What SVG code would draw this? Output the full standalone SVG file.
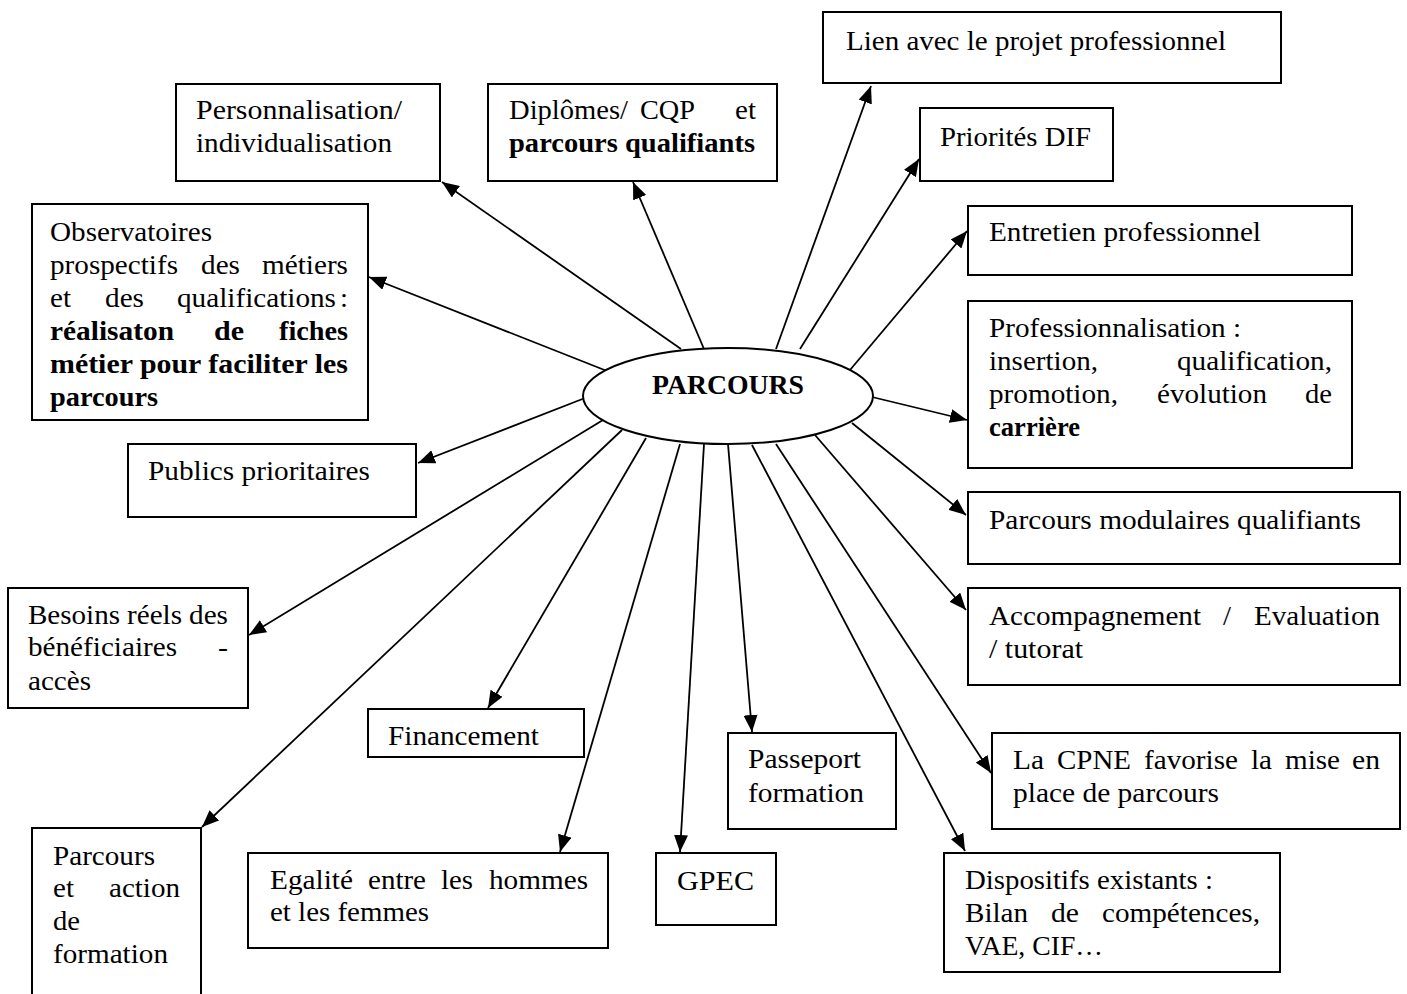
<svg xmlns="http://www.w3.org/2000/svg" width="1407" height="994" viewBox="0 0 1407 994">
<style>
.box{fill:#fff;stroke:#000;stroke-width:2}
.t{font-family:"Liberation Serif","Times New Roman",serif;font-size:27px;fill:#000}
.b{font-weight:bold}
.c{stroke:#000;stroke-width:1.8;fill:none;marker-end:url(#ah)}
</style>
<defs>
<marker id="ah" markerUnits="userSpaceOnUse" markerWidth="18" markerHeight="14" refX="17" refY="7" orient="auto">
<path d="M0,0 L17,7 L0,14 z" fill="#000"/>
</marker>
</defs>
<rect width="1407" height="994" fill="#fff"/>
<g id="connectors">
<line class="c" x1="776" y1="349" x2="871" y2="86"/>
<line class="c" x1="800" y1="349" x2="919" y2="159"/>
<line class="c" x1="850" y1="370" x2="967" y2="231"/>
<line class="c" x1="872" y1="397" x2="967" y2="420"/>
<line class="c" x1="852" y1="423" x2="966" y2="515"/>
<line class="c" x1="815" y1="435" x2="966" y2="610"/>
<line class="c" x1="776" y1="444" x2="991" y2="773"/>
<line class="c" x1="752" y1="445" x2="965" y2="851"/>
<line class="c" x1="728" y1="444" x2="752" y2="732"/>
<line class="c" x1="704" y1="444" x2="680" y2="852"/>
<line class="c" x1="680" y1="444" x2="560" y2="852"/>
<line class="c" x1="646" y1="438" x2="488" y2="708"/>
<line class="c" x1="622" y1="430" x2="202" y2="827"/>
<line class="c" x1="603" y1="420" x2="249" y2="635"/>
<line class="c" x1="585" y1="398" x2="418" y2="463"/>
<line class="c" x1="607" y1="371" x2="369" y2="277"/>
<line class="c" x1="681" y1="349" x2="442" y2="182"/>
<line class="c" x1="704" y1="349" x2="633" y2="182"/>
</g>
<g id="parcours">
<ellipse cx="728" cy="396" rx="145" ry="48" fill="#fff" stroke="#000" stroke-width="2"/>
<text class="t b" x="652" y="394" textLength="152" lengthAdjust="spacingAndGlyphs">PARCOURS</text>
</g>
<g id="lien">
<rect class="box" x="823" y="12" width="458" height="71"/>
<text class="t" x="846" y="50" textLength="380" lengthAdjust="spacingAndGlyphs">Lien avec le projet professionnel</text>
</g>
<g id="dif">
<rect class="box" x="920" y="108" width="193" height="73"/>
<text class="t" x="940" y="146" textLength="151" lengthAdjust="spacingAndGlyphs">Priorités DIF</text>
</g>
<g id="entretien">
<rect class="box" x="968" y="206" width="384" height="69"/>
<text class="t" x="989" y="241" textLength="272" lengthAdjust="spacingAndGlyphs">Entretien professionnel</text>
</g>
<g id="professionnalisation">
<rect class="box" x="968" y="301" width="384" height="167"/>
<text class="t" x="989" y="337" textLength="252" lengthAdjust="spacingAndGlyphs">Professionnalisation :</text>
<text class="t" x="989" y="370" textLength="109" lengthAdjust="spacingAndGlyphs">insertion,</text>
<text class="t" x="1177" y="370" textLength="155" lengthAdjust="spacingAndGlyphs">qualification,</text>
<text class="t" x="989" y="403" textLength="129" lengthAdjust="spacingAndGlyphs">promotion,</text>
<text class="t" x="1157" y="403" textLength="110" lengthAdjust="spacingAndGlyphs">évolution</text>
<text class="t" x="1305" y="403" textLength="27" lengthAdjust="spacingAndGlyphs">de</text>
<text class="t b" x="989" y="436" textLength="91" lengthAdjust="spacingAndGlyphs">carrière</text>
</g>
<g id="modulaires">
<rect class="box" x="968" y="492" width="432" height="72"/>
<text class="t" x="989" y="529" textLength="372" lengthAdjust="spacingAndGlyphs">Parcours modulaires qualifiants</text>
</g>
<g id="accompagnement">
<rect class="box" x="968" y="588" width="432" height="97"/>
<text class="t" x="989" y="625" textLength="212" lengthAdjust="spacingAndGlyphs">Accompagnement</text>
<text class="t" x="1223" y="625" textLength="8" lengthAdjust="spacingAndGlyphs">/</text>
<text class="t" x="1254" y="625" textLength="126" lengthAdjust="spacingAndGlyphs">Evaluation</text>
<text class="t" x="989" y="658" textLength="94" lengthAdjust="spacingAndGlyphs">/ tutorat</text>
</g>
<g id="cpne">
<rect class="box" x="992" y="733" width="408" height="96"/>
<text class="t" x="1013" y="769" textLength="31" lengthAdjust="spacingAndGlyphs">La</text>
<text class="t" x="1057" y="769" textLength="74" lengthAdjust="spacingAndGlyphs">CPNE</text>
<text class="t" x="1144" y="769" textLength="94" lengthAdjust="spacingAndGlyphs">favorise</text>
<text class="t" x="1251" y="769" textLength="21" lengthAdjust="spacingAndGlyphs">la</text>
<text class="t" x="1285" y="769" textLength="55" lengthAdjust="spacingAndGlyphs">mise</text>
<text class="t" x="1352" y="769" textLength="28" lengthAdjust="spacingAndGlyphs">en</text>
<text class="t" x="1013" y="802" textLength="206" lengthAdjust="spacingAndGlyphs">place de parcours</text>
</g>
<g id="dispositifs">
<rect class="box" x="944" y="853" width="336" height="119"/>
<text class="t" x="965" y="889" textLength="248" lengthAdjust="spacingAndGlyphs">Dispositifs existants :</text>
<text class="t" x="965" y="922" textLength="63" lengthAdjust="spacingAndGlyphs">Bilan</text>
<text class="t" x="1051" y="922" textLength="28" lengthAdjust="spacingAndGlyphs">de</text>
<text class="t" x="1102" y="922" textLength="158" lengthAdjust="spacingAndGlyphs">compétences,</text>
<text class="t" x="965" y="955" textLength="138" lengthAdjust="spacingAndGlyphs">VAE, CIF…</text>
</g>
<g id="passeport">
<rect class="box" x="728" y="733" width="168" height="96"/>
<text class="t" x="748" y="768" textLength="113" lengthAdjust="spacingAndGlyphs">Passeport</text>
<text class="t" x="748" y="802" textLength="116" lengthAdjust="spacingAndGlyphs">formation</text>
</g>
<g id="gpec">
<rect class="box" x="656" y="853" width="120" height="72"/>
<text class="t" x="677" y="890" textLength="77" lengthAdjust="spacingAndGlyphs">GPEC</text>
</g>
<g id="egalite">
<rect class="box" x="248" y="853" width="360" height="95"/>
<text class="t" x="270" y="889" textLength="83" lengthAdjust="spacingAndGlyphs">Egalité</text>
<text class="t" x="368" y="889" textLength="58" lengthAdjust="spacingAndGlyphs">entre</text>
<text class="t" x="441" y="889" textLength="32" lengthAdjust="spacingAndGlyphs">les</text>
<text class="t" x="489" y="889" textLength="99" lengthAdjust="spacingAndGlyphs">hommes</text>
<text class="t" x="270" y="921" textLength="159" lengthAdjust="spacingAndGlyphs">et les femmes</text>
</g>
<g id="action">
<rect class="box" x="32" y="828" width="169" height="180"/>
<text class="t" x="53" y="865" textLength="102" lengthAdjust="spacingAndGlyphs">Parcours</text>
<text class="t" x="53" y="897" textLength="21" lengthAdjust="spacingAndGlyphs">et</text>
<text class="t" x="109" y="897" textLength="71" lengthAdjust="spacingAndGlyphs">action</text>
<text class="t" x="53" y="930" textLength="27" lengthAdjust="spacingAndGlyphs">de</text>
<text class="t" x="53" y="963" textLength="115" lengthAdjust="spacingAndGlyphs">formation</text>
</g>
<g id="financement">
<rect class="box" x="368" y="709" width="216" height="48"/>
<text class="t" x="388" y="745" textLength="151" lengthAdjust="spacingAndGlyphs">Financement</text>
</g>
<g id="besoins">
<rect class="box" x="8" y="588" width="240" height="120"/>
<text class="t" x="28" y="624" textLength="92" lengthAdjust="spacingAndGlyphs">Besoins</text>
<text class="t" x="127" y="624" textLength="55" lengthAdjust="spacingAndGlyphs">réels</text>
<text class="t" x="189" y="624" textLength="39" lengthAdjust="spacingAndGlyphs">des</text>
<text class="t" x="28" y="656" textLength="149" lengthAdjust="spacingAndGlyphs">bénéficiaires</text>
<text class="t" x="218" y="656" textLength="10" lengthAdjust="spacingAndGlyphs">-</text>
<text class="t" x="28" y="690" textLength="63" lengthAdjust="spacingAndGlyphs">accès</text>
</g>
<g id="publics">
<rect class="box" x="128" y="444" width="288" height="73"/>
<text class="t" x="148" y="480" textLength="222" lengthAdjust="spacingAndGlyphs">Publics prioritaires</text>
</g>
<g id="observatoires">
<rect class="box" x="32" y="204" width="336" height="216"/>
<text class="t" x="50" y="241" textLength="162" lengthAdjust="spacingAndGlyphs">Observatoires</text>
<text class="t" x="50" y="274" textLength="128" lengthAdjust="spacingAndGlyphs">prospectifs</text>
<text class="t" x="201" y="274" textLength="39" lengthAdjust="spacingAndGlyphs">des</text>
<text class="t" x="262" y="274" textLength="86" lengthAdjust="spacingAndGlyphs">métiers</text>
<text class="t" x="50" y="307" textLength="21" lengthAdjust="spacingAndGlyphs">et</text>
<text class="t" x="105" y="307" textLength="39" lengthAdjust="spacingAndGlyphs">des</text>
<text class="t" x="177" y="307" textLength="159" lengthAdjust="spacingAndGlyphs">qualifications</text>
<text class="t" x="340" y="307" textLength="8" lengthAdjust="spacingAndGlyphs">:</text>
<text class="t b" x="50" y="340" textLength="124" lengthAdjust="spacingAndGlyphs">réalisaton</text>
<text class="t b" x="214" y="340" textLength="30" lengthAdjust="spacingAndGlyphs">de</text>
<text class="t b" x="279" y="340" textLength="69" lengthAdjust="spacingAndGlyphs">fiches</text>
<text class="t b" x="50" y="373" textLength="298" lengthAdjust="spacingAndGlyphs">métier pour faciliter les</text>
<text class="t b" x="50" y="406" textLength="108" lengthAdjust="spacingAndGlyphs">parcours</text>
</g>
<g id="personnalisation">
<rect class="box" x="176" y="84" width="264" height="97"/>
<text class="t" x="196" y="119" textLength="206" lengthAdjust="spacingAndGlyphs">Personnalisation/</text>
<text class="t" x="196" y="152" textLength="196" lengthAdjust="spacingAndGlyphs">individualisation</text>
</g>
<g id="diplomes">
<rect class="box" x="488" y="84" width="289" height="97"/>
<text class="t" x="509" y="119" textLength="119" lengthAdjust="spacingAndGlyphs">Diplômes/</text>
<text class="t" x="640" y="119" textLength="55" lengthAdjust="spacingAndGlyphs">CQP</text>
<text class="t" x="735" y="119" textLength="21" lengthAdjust="spacingAndGlyphs">et</text>
<text class="t b" x="509" y="152" textLength="246" lengthAdjust="spacingAndGlyphs">parcours qualifiants</text>
</g>
</svg>
